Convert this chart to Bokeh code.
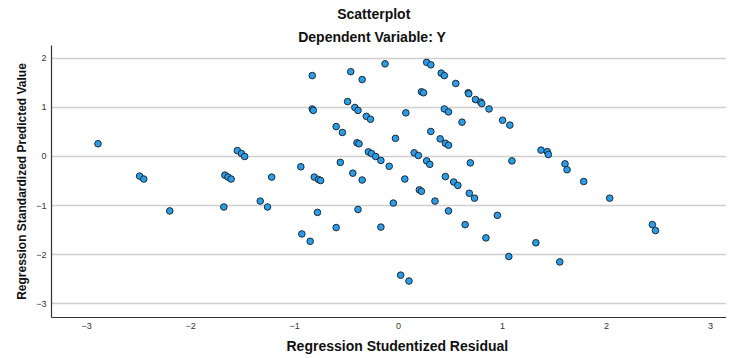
from bokeh.plotting import figure
from bokeh.models import ColumnDataSource, FixedTicker, Range1d, Title
from bokeh.embed import file_html
from bokeh.resources import INLINE

# Regression Studentized Residual (x) / Regression Standardized Predicted Value (y)
x_resid = [-2.89, -2.49, -2.45, -2.20, -1.67, -1.64, -1.61, -1.68, -1.55, -1.51,
           -1.48, -1.33, -1.26, -1.22, -0.94, -0.93, -0.85, -0.83, -0.83, -0.82,
           -0.81, -0.77, -0.75, -0.78, -0.60, -0.54, -0.56, -0.60, -0.49, -0.46,
           -0.44, -0.42, -0.39, -0.40, -0.38, -0.39, -0.35, -0.35, -0.31, -0.27,
           -0.29, -0.26, -0.22, -0.17, -0.17, -0.13, -0.09, -0.05, -0.03, 0.02,
           0.06, 0.07, 0.10, 0.15, 0.19, 0.20, 0.22, 0.22, 0.24, 0.27,
           0.31, 0.27, 0.30, 0.31, 0.35, 0.40, 0.41, 0.44, 0.44, 0.48,
           0.45, 0.48, 0.45, 0.48, 0.53, 0.57, 0.55, 0.61, 0.64, 0.67,
           0.675, 0.68, 0.69, 0.73, 0.74, 0.79, 0.80, 0.84, 0.87, 0.95,
           1.00, 1.06, 1.07, 1.09, 1.32, 1.37, 1.43, 1.44, 1.55, 1.60,
           1.62, 1.78, 2.03, 2.44, 2.47]
y_pred = [0.26, -0.40, -0.46, -1.11, -0.38, -0.42, -0.46, -1.03, 0.12, 0.06,
          0.00, -0.91, -1.03, -0.42, -0.21, -1.58, -1.73, 1.65, 0.97, 0.94,
          -0.42, -0.47, -0.49, -1.14, 0.61, 0.49, -0.12, -1.45, 1.12, 1.73,
          -0.34, 1.00, 0.94, 0.28, 0.26, -1.08, 1.57, -0.48, 0.82, 0.76,
          0.095, 0.06, 0.00, -0.08, -1.44, 1.89, -0.20, -0.95, 0.37, -2.42,
          -0.46, 0.89, -2.54, 0.075, 0.02, -0.68, -0.71, 1.32, 1.30, 1.92,
          1.87, -0.09, -0.16, 0.51, -0.91, 0.36, 1.70, 1.65, 0.97, 0.91,
          0.27, 0.23, -0.41, -1.11, -0.52, -0.59, 1.49, 0.70, -1.39, 1.30,
          1.28, -0.75, -0.13, -0.85, 1.16, 1.11, 1.08, -1.66, 0.97, -1.20,
          0.74, -2.04, 0.64, -0.09, -1.76, 0.13, 0.10, 0.04, -2.15, -0.15,
          -0.27, -0.51, -0.85, -1.39, -1.51]

x_ticks = [-3, -2, -1, 0, 1, 2, 3]
y_ticks = [-3, -2, -1, 0, 1, 2]

title_text = "Scatterplot"
subtitle_text = "Dependent Variable: Y"
x_label = "Regression Studentized Residual"
y_label = "Regression Standardized Predicted Value"

FONT = "Liberation Sans"
TXT = "#111111"

src = ColumnDataSource(dict(x=x_resid, y=y_pred))

p = figure(width=726, height=358, output_backend="svg", toolbar_location=None,
           x_range=Range1d(-3.337, 3.153), y_range=Range1d(-3.284, 2.264),
           min_border_left=51, min_border_right=0, min_border_top=45,
           min_border_bottom=40)
p.outline_line_color = None
p.background_fill_color = "white"
p.border_fill_color = "white"

p.scatter("x", "y", source=src, size=6.6, marker="circle",
          fill_color="#2B9DE8", line_color="#1b2a36", line_width=1)

for ax in (p.xaxis[0], p.yaxis[0]):
    ax.major_tick_in = 0
    ax.major_tick_out = 0
    ax.minor_tick_in = 0
    ax.minor_tick_out = 0
    ax.major_label_text_font = FONT
    ax.major_label_text_font_size = "9px"
    ax.major_label_text_color = "#333333"
    ax.axis_line_color = "#333333"
    ax.axis_line_width = 1.2
    ax.major_label_standoff = 5

p.xaxis[0].ticker = FixedTicker(ticks=x_ticks)
p.yaxis[0].ticker = FixedTicker(ticks=y_ticks)

p.xgrid.grid_line_color = None
p.ygrid.ticker = FixedTicker(ticks=y_ticks)
p.ygrid.grid_line_color = "#cfcfcf"
p.ygrid.grid_line_width = 1.3

# titles: first added "above" sits nearest the frame
p.add_layout(Title(text=subtitle_text, align="left", offset=246.7, standoff=2,
                   text_font=FONT, text_font_size="14px", text_font_style="bold",
                   text_color=TXT), "above")
p.add_layout(Title(text=title_text, align="left", offset=285.7, standoff=7,
                   text_font=FONT, text_font_size="14px", text_font_style="bold",
                   text_color=TXT), "above")
p.add_layout(Title(text=x_label, align="left", offset=235.0, standoff=9,
                   text_font=FONT, text_font_size="14px", text_font_style="bold",
                   text_color=TXT), "below")
p.add_layout(Title(text=y_label, align="center", standoff=10,
                   text_font=FONT, text_font_size="12px", text_font_style="bold",
                   text_color=TXT), "left")

open("out.html", "w").write(file_html(p, INLINE))
